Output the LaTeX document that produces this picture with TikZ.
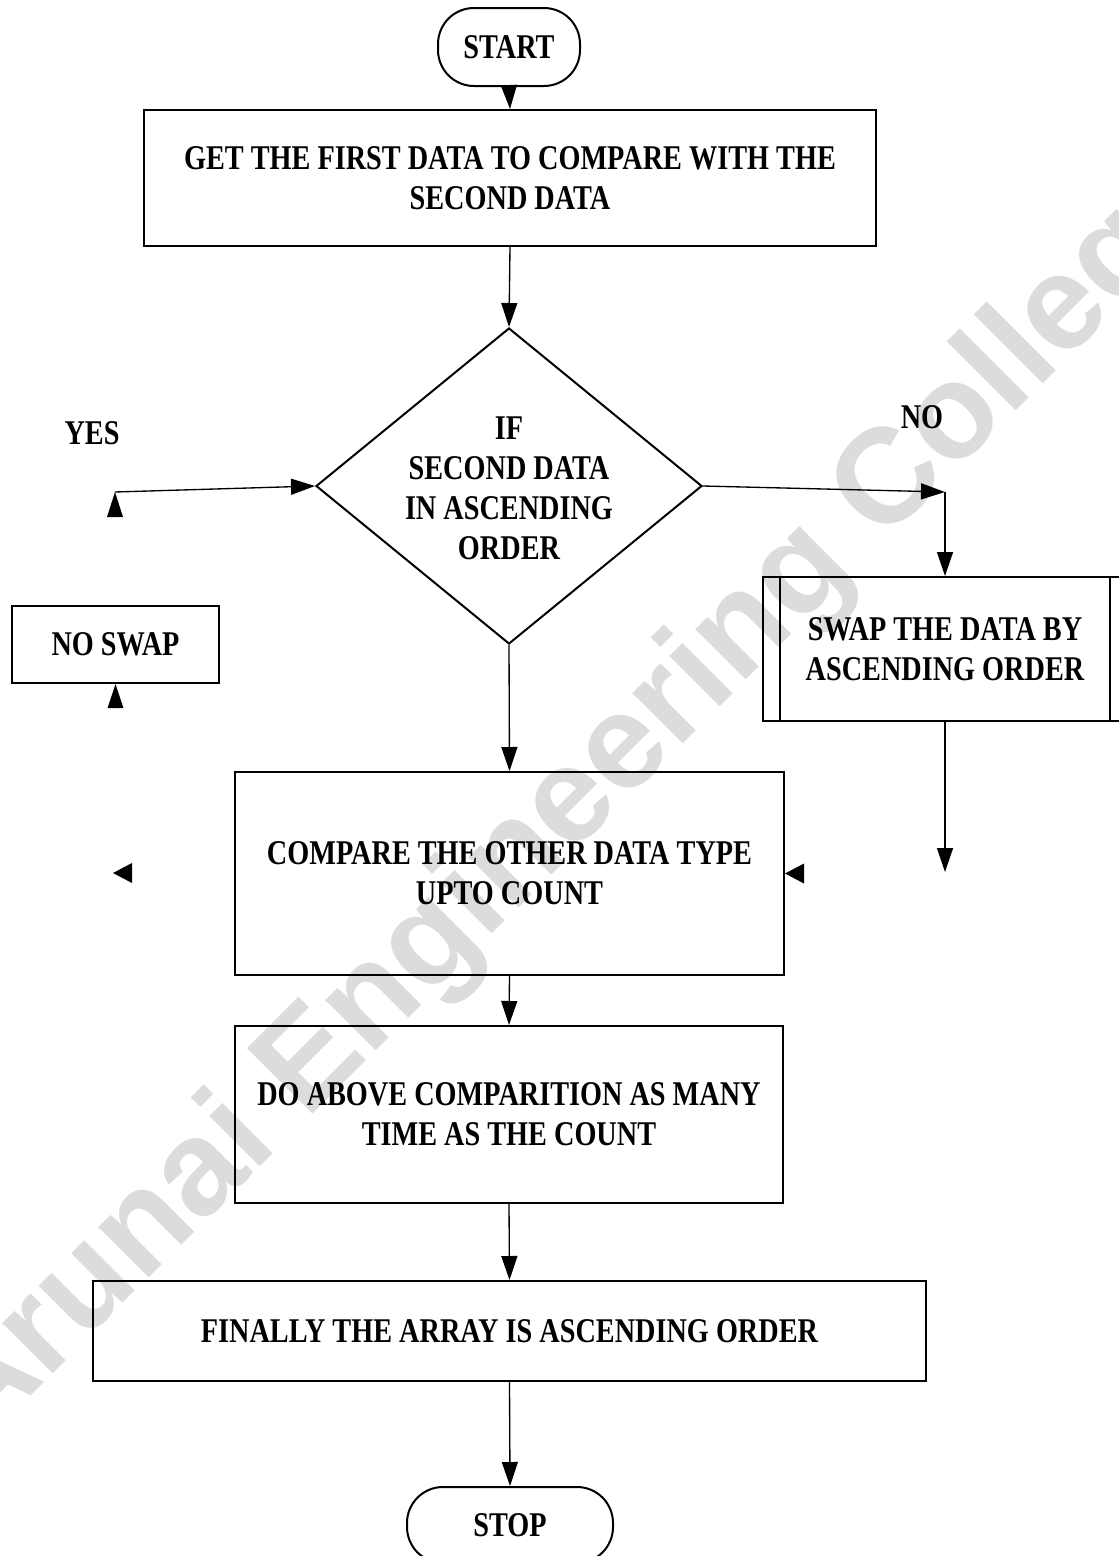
\documentclass[tikz,border=0pt]{standalone}
\usepackage{fontspec}
\usetikzlibrary{shapes.geometric,arrows.meta}
\newfontfamily\flowfont{Liberation Serif}[FakeStretch=0.815]
\newfontfamily\markfont{Liberation Sans}
\definecolor{markgray}{RGB}{220,220,220}

\tikzset{
  flowtext/.style={font=\flowfont\bfseries\fontsize{26pt}{30pt}\selectfont, align=center, inner sep=0pt},
  procbox/.style={flowtext, draw, line width=1.5pt, rectangle},
  termbox/.style={flowtext, draw, line width=1.5pt, rectangle, rounded corners=27pt},
  decbox/.style={draw, line width=1.5pt, diamond, inner sep=0pt},
  arrow/.style={line width=1pt, -{Triangle[length=18pt,width=12pt]}},
  stub/.style={fill=black},
}

\begin{document}
\begin{tikzpicture}[x=0.75pt, y=-0.75pt]
  % page
  \path[fill=white, use as bounding box] (0,0) rectangle (1119,1556);

  % watermark behind the chart
  \node[text=markgray, rotate=45, inner sep=0pt,
        font=\markfont\bfseries\fontsize{101pt}{110pt}\selectfont]
        (watermark) at (578,800) {Arunai Engineering College};

  % terminals and process boxes
  \node[termbox, minimum width=106.5pt, minimum height=58.5pt] (start) at (509,47) {START};
  \node[procbox, minimum width=549pt, minimum height=102pt] (getdata) at (510,178)
        {GET THE FIRST DATA TO COMPARE WITH THE\\SECOND DATA};

  % decision
  \node[decbox, minimum width=289.5pt, minimum height=237pt] (dec) at (509,486) {};
  \node[flowtext] (dectext) at (509,488) {IF\\SECOND DATA\\IN ASCENDING\\ORDER};

  \node[flowtext] (yes) at (92,433) {YES};
  \node[flowtext] (no) at (922,417) {NO};

  \node[procbox, minimum width=155.25pt, minimum height=57.75pt] (noswap) at (115.5,644.5) {NO SWAP};

  % predefined process
  \node[procbox, minimum width=273pt, minimum height=108pt] (swap) at (945,649)
        {SWAP THE DATA BY\\ASCENDING ORDER};
  \draw[line width=1.5pt] ([xshift=13.5pt]swap.north west) -- ([xshift=13.5pt]swap.south west);
  \draw[line width=1.5pt] ([xshift=-13.5pt]swap.north east) -- ([xshift=-13.5pt]swap.south east);

  \node[procbox, minimum width=411.75pt, minimum height=152.25pt] (compare) at (509.5,873.5)
        {COMPARE THE OTHER DATA TYPE\\UPTO COUNT};
  \node[procbox, minimum width=411pt, minimum height=132.75pt] (doabove) at (509,1114.5)
        {DO ABOVE COMPARITION AS MANY\\TIME AS THE COUNT};
  \node[procbox, minimum width=624.75pt, minimum height=75pt] (finally) at (509.5,1331)
        {FINALLY THE ARRAY IS ASCENDING ORDER};
  \node[termbox, minimum width=154.5pt, minimum height=57pt] (stop) at (510,1525) {STOP};

  % free ends of connectors
  \coordinate (yesend) at (115,492);
  \coordinate (nocorner) at (945,492);
  \coordinate (swapend) at (945,872);

  % connectors
  \draw[arrow] (start.south) -- (getdata.north);
  \draw[arrow] (getdata.south) -- (dec.north);
  \draw[arrow] (yesend) -- (dec.west);
  \draw[arrow] (dec.east) -- (nocorner);
  \draw[arrow] (nocorner) -- (swap.north);
  \draw[arrow] (swap.south) -- (swapend);
  \draw[arrow] (dec.south) -- (compare.north);
  \draw[arrow] (compare.south) -- (doabove.north);
  \draw[arrow] (doabove.south) -- (finally.north);
  \draw[arrow] (finally.south) -- (stop.north);

  % loose arrowheads
  \fill[stub] (yesend) -- ++(-8,25) -- ++(16,0) -- cycle;
  \fill[stub] (noswap.south) -- ++(-8,24) -- ++(16,0) -- cycle;
  \fill[stub] (113,873) -- ++(19,-10) -- ++(0,20) -- cycle;
  \fill[stub] (compare.east) -- ++(19,-10) -- ++(0,20) -- cycle;
\end{tikzpicture}
\end{document}
